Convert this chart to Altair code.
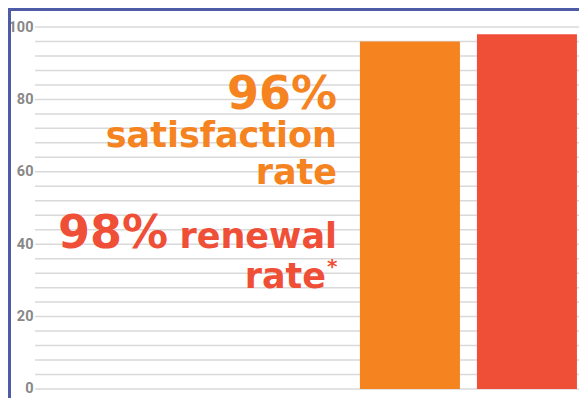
import altair as alt
import pandas as pd

# ---- data ----
categories = ["satisfaction", "renewal"]
values = [96, 98]
x_domain = ["", " ", "satisfaction", "renewal"]   # two empty slots hold the captions
bar_colors = ["#F5831F", "#F04F37"]
y_ticks = list(range(0, 101, 4))
y_labels = list(range(0, 101, 20))
sat_lines = ["96%", "satisfaction", "rate"]
ren_lines = ["98%", "renewal", "rate", "*"]

df = pd.DataFrame({"category": categories, "value": values})
grid_df = pd.DataFrame({"tick": y_ticks})

W = 544
H = 371
ORANGE = bar_colors[0]
RED = bar_colors[1]
FONT = "DejaVu Sans"
AXIS_FONT = "Roboto"

y_scale = alt.Scale(domain=[-2.49, 100], nice=False, zero=False)

grid = alt.Chart(grid_df).mark_rule(color="#d9d9d9", strokeWidth=1.5).encode(
    y=alt.Y("tick:Q", scale=y_scale,
            axis=alt.Axis(values=y_labels, title=None, ticks=False, domain=False,
                          grid=False, labelFont=AXIS_FONT, labelFontWeight="bold",
                          labelFontSize=14.5, labelColor="#888888", labelPadding=2)),
    x=alt.value(0), x2=alt.value(W),
)

bars = alt.Chart(df).mark_bar().encode(
    x=alt.X("category:N", axis=None,
            scale=alt.Scale(domain=x_domain, paddingInner=0.1453,
                            paddingOuter=0.397, align=0.978)),
    y=alt.Y("value:Q", scale=y_scale),
    y2=alt.value(H),
    color=alt.Color("category:N", scale=alt.Scale(domain=categories, range=bar_colors),
                    legend=None),
)

def txt(s, x, y, size, color, align="right"):
    return alt.Chart(df).transform_filter("datum.category == 'satisfaction'").mark_text(
        text=s, font=FONT, fontWeight="bold", fontSize=size, color=color,
        align=align, baseline="alphabetic"
    ).encode(x=alt.value(x), y=alt.value(y))

texts = [
    txt(sat_lines[0], 302, 82, 46, ORANGE),
    txt(sat_lines[1], 302, 120, 35, ORANGE),
    txt(sat_lines[2], 302, 157, 35, ORANGE),
    txt(ren_lines[0], 23, 221, 46, RED, align="left"),
    txt(ren_lines[1], 302, 221, 35, RED),
    txt(ren_lines[2], 291, 261, 35, RED),
    txt(ren_lines[3], 292, 246, 20, RED, align="left"),
]

frame_left = alt.Chart(df).transform_filter("datum.category == 'satisfaction'").mark_rule(
    color="#4e5ba6", strokeWidth=3
).encode(x=alt.value(-25.5), y=alt.value(-18), y2=alt.value(H + 10))
frame_top = alt.Chart(df).transform_filter("datum.category == 'satisfaction'").mark_rule(
    color="#4e5ba6", strokeWidth=3
).encode(x=alt.value(-27), x2=alt.value(W + 10), y=alt.value(-17.5))

chart = alt.layer(grid, bars, *texts, frame_left, frame_top).properties(
    width=W, height=H,
    autosize=alt.AutoSizeParams(type="none"),
    padding={"left": 27, "top": 19, "right": 0, "bottom": 0},
    background="white",
).configure_view(stroke=None)

chart.save("out.html", embed_options={"renderer": "svg", "actions": False})
